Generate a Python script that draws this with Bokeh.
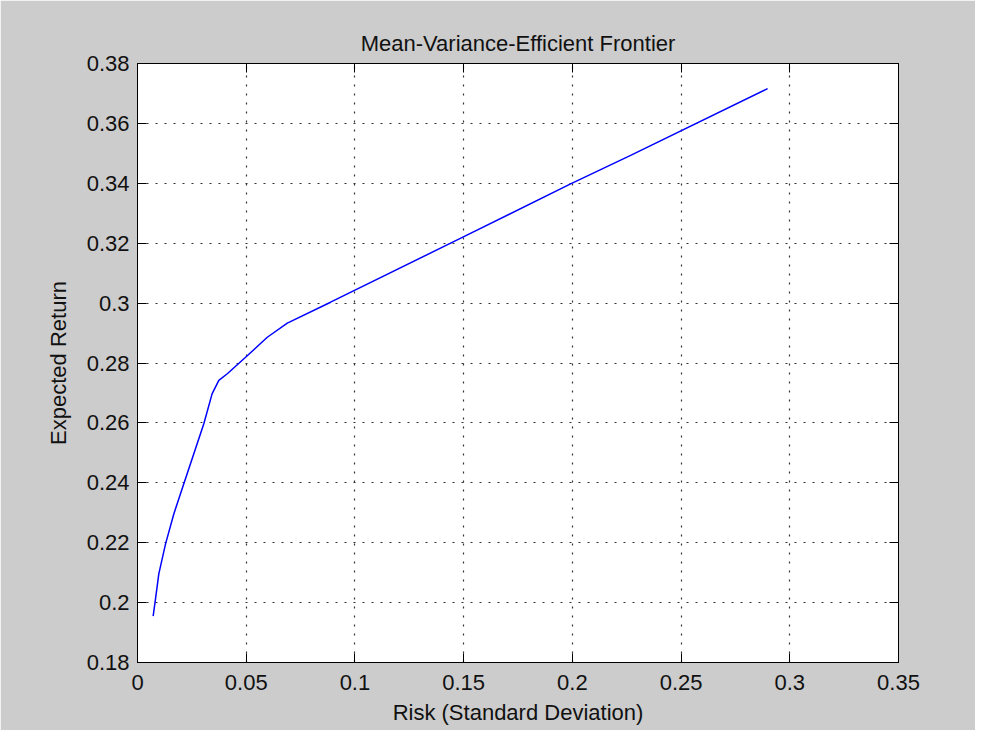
from bokeh.plotting import figure
from bokeh.models import LinearAxis, FixedTicker, Range1d, CustomJSTickFormatter
from bokeh.embed import file_html
from bokeh.resources import INLINE

# Data
risk = [0.0072, 0.0083, 0.0098, 0.0129, 0.0167, 0.0213, 0.0259, 0.0305, 0.0343,
        0.0374, 0.0413, 0.0497, 0.0597, 0.0689, 0.0888, 0.1501, 0.1992, 0.2268, 0.2898]
expected_return = [0.1955, 0.2013, 0.2096, 0.2196, 0.2296, 0.2397, 0.2497, 0.2597, 0.2697,
                   0.2742, 0.2764, 0.2819, 0.2886, 0.2933, 0.3003, 0.3222, 0.3398, 0.3493, 0.3716]

x_ticks = [0, 0.05, 0.1, 0.15, 0.2, 0.25, 0.3, 0.35]
x_tick_labels = ["0", "0.05", "0.1", "0.15", "0.2", "0.25", "0.3", "0.35"]
y_ticks = [0.18, 0.2, 0.22, 0.24, 0.26, 0.28, 0.3, 0.32, 0.34, 0.36, 0.38]
y_tick_labels = ["0.18", "0.2", "0.22", "0.24", "0.26", "0.28", "0.3", "0.32", "0.34", "0.36", "0.38"]

FONT = "Liberation Sans"
FS = "22px"

p = figure(width=975, height=730, output_backend="svg", toolbar_location=None,
           x_range=Range1d(0, 0.35), y_range=Range1d(0.18, 0.38),
           x_axis_location=None, y_axis_location=None,
           min_border_left=137, min_border_right=77, min_border_top=63, min_border_bottom=68)

p.background_fill_color = "white"
p.border_fill_color = "#cccccc"
p.outline_line_color = "black"
p.outline_line_width = 1

p.title.text = "Mean-Variance-Efficient Frontier"
p.title.align = "center"
p.title.text_font = FONT
p.title.text_font_size = FS
p.title.text_font_style = "normal"
p.title.text_color = "#111111"
p.title.standoff = 16

blank = CustomJSTickFormatter(code="return ''")

def style_axis(ax, ticks, labels, show):
    ax.ticker = FixedTicker(ticks=ticks)
    ax.major_tick_in = 9
    ax.major_tick_out = 0
    ax.minor_tick_in = 0
    ax.minor_tick_out = 0
    ax.axis_line_color = "black"
    ax.major_tick_line_color = "black"
    if show:
        ax.major_label_overrides = {t: l for t, l in zip(ticks, labels)}
        ax.major_label_text_font = FONT
        ax.major_label_text_font_size = FS
        ax.major_label_text_color = "#111111"
        ax.axis_label_text_font = FONT
        ax.axis_label_text_font_size = FS
        ax.axis_label_text_font_style = "normal"
        ax.axis_label_text_color = "#111111"
    else:
        ax.formatter = blank
        ax.major_label_text_font_size = "1px"

xb = LinearAxis(axis_label="Risk (Standard Deviation)")
style_axis(xb, x_ticks, x_tick_labels, True)
xb.major_label_standoff = 12
xb.axis_label_standoff = 7
p.add_layout(xb, "below")

yl = LinearAxis(axis_label="Expected Return")
style_axis(yl, y_ticks, y_tick_labels, True)
yl.major_label_standoff = 8
yl.axis_label_standoff = 13
p.add_layout(yl, "left")

xa = LinearAxis()
style_axis(xa, x_ticks, x_tick_labels, False)
xa.major_label_standoff = 0
p.add_layout(xa, "above")

yr = LinearAxis()
style_axis(yr, y_ticks, y_tick_labels, False)
yr.major_label_standoff = 0
p.add_layout(yr, "right")

p.xgrid.ticker = FixedTicker(ticks=x_ticks)
p.ygrid.ticker = FixedTicker(ticks=y_ticks)
for g in (p.xgrid, p.ygrid):
    g.grid_line_color = "#333333"
    g.grid_line_dash = "2 7"
    g.grid_line_width = 1.2

p.line(risk, expected_return, line_color="#0000ff", line_width=1.5)

open("out.html", "w").write(file_html(p, INLINE))
